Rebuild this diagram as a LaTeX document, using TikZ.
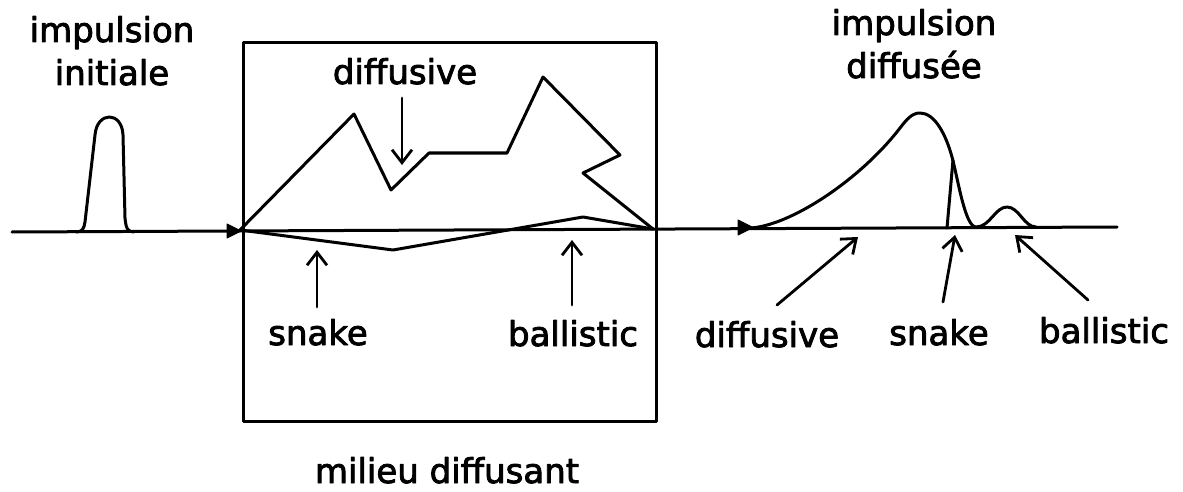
\documentclass[tikz,border=0pt]{standalone}
\usepackage{fontspec}
\setmainfont{DejaVu Sans}
\newfontfamily\lblfont[FakeBold=2.5]{DejaVu Sans}
\usetikzlibrary{arrows.meta}
\begin{document}
\begin{tikzpicture}[x=1pt,y=-1pt, line width=3pt, line join=round, line cap=round,
  lbl/.style={font=\lblfont\fontsize{34}{44}\selectfont, inner sep=0pt, anchor=base},
  ptr/.style={-{Straight Barb[length=13pt,width=20pt]}, line width=2.8pt},
  tri/.style={fill=black, draw=black, line width=1pt}]
\useasboundingbox (0,0) rectangle (1183,492);

% coordinates
\coordinate (axL) at (12,232);
\coordinate (axR) at (1117,227);
\coordinate (inB) at (240,230);
\coordinate (outB) at (653,229);

% axis
\draw (axL) -- (axR);
\filldraw[tri] (227,224) -- (241,231) -- (227,238) -- cycle;
\filldraw[tri] (738,220) -- (753,227.5) -- (738,235) -- cycle;

% initial pulse
\draw (76,232) .. controls (82,232) and (84,229) .. (85,222) -- (95,135)
  .. controls (97,111) and (122,111) .. (123,135) -- (125,218)
  .. controls (126,229) and (128,232) .. (134,232);

% medium box
\node[draw, line width=3pt, minimum width=413pt, minimum height=379pt, inner sep=0pt, anchor=north west] (box) at (242,41) {};

% paths in medium
\draw (inB) -- (354,114) -- (391,190) -- (429,153) -- (507,153) -- (543,77)
  -- (620,155) -- (583,173) -- (outB);
\draw (inB) -- (393,250) -- (583,217) -- (outB);

% diffused pulse
\draw (750,228) .. controls (790,226) and (860,180) .. (900,128)
  .. controls (907,119) and (912,113) .. (920,113)
  .. controls (935,113) and (946,135) .. (952,157)
  .. controls (958,179) and (965,227) .. (976,227)
  .. controls (990,227) and (995,207) .. (1007,207)
  .. controls (1019,207) and (1024,227) .. (1036,227);
\coordinate (snk) at (953,160);
\draw (947,228) -- (snk);

% labels
\node[lbl] (ii1) at (112,42) {impulsion};
\node[lbl] (ii2) at (112,85) {initiale};
\node[lbl] (id1) at (914,35) {impulsion};
\node[lbl] (id2) at (914,78) {diffusée};

\node[lbl] (dif1) at (405,84) {diffusive};
\node[lbl] (snk1) at (318,345) {snake};
\node[lbl] (bal1) at (573,346) {ballistic};
\node[lbl] (mil) at (447,483) {milieu diffusant};

\node[lbl] (dif2) at (767,347) {diffusive};
\node[lbl] (snk2) at (939,345) {snake};
\node[lbl] (bal2) at (1104,343) {ballistic};

% pointer arrows
\coordinate (a1s) at (402,98);  \coordinate (a1e) at (402,165);
\coordinate (a2s) at (317,307); \coordinate (a2e) at (317,250);
\coordinate (a3s) at (572,305); \coordinate (a3e) at (572,240);
\coordinate (b1s) at (777,305); \coordinate (b1e) at (858,237);
\coordinate (b2s) at (943,302); \coordinate (b2e) at (955,235);
\coordinate (b3s) at (1088,300); \coordinate (b3e) at (1015,235);
\draw[ptr] (a1s) -- (a1e);
\draw[ptr] (a2s) -- (a2e);
\draw[ptr] (a3s) -- (a3e);
\draw[ptr] (b1s) -- (b1e);
\draw[ptr] (b2s) -- (b2e);
\draw[ptr] (b3s) -- (b3e);
\end{tikzpicture}
\end{document}
